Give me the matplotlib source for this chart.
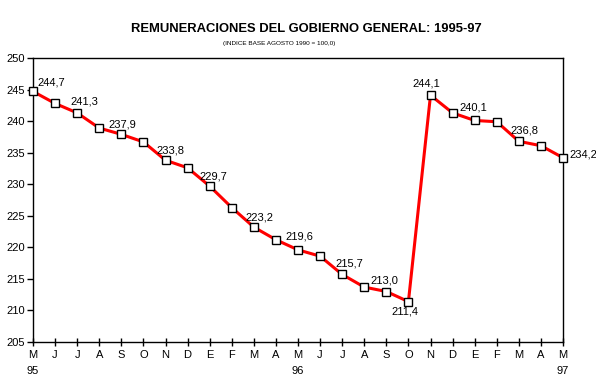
import matplotlib
matplotlib.use("Agg")
import matplotlib.pyplot as plt

months = ["M", "J", "J", "A", "S", "O", "N", "D", "E", "F", "M", "A",
          "M", "J", "J", "A", "S", "O", "N", "D", "E", "F", "M", "A", "M"]
years = {0: "95", 12: "96", 24: "97"}
values = [244.7, 242.8, 241.3, 238.9, 237.9, 236.7, 233.8, 232.6, 229.7,
          226.3, 223.2, 221.2, 219.6, 218.6, 215.7, 213.7, 213.0, 211.4,
          244.1, 241.3, 240.1, 239.9, 236.8, 236.1, 234.2]
# index -> (dx px, dy px, ha)
labels = {0: (4, 9, "left"), 2: (7, 11, "center"), 4: (1, 10, "center"),
          6: (5, 10, "center"), 8: (4, 10, "center"), 10: (6, 10, "center"),
          12: (1, 13, "center"), 14: (7, 11, "center"), 16: (-2, 11, "center"),
          17: (-3, -10, "center"), 18: (-4, 12, "center"), 20: (-1, 13, "center"),
          22: (6, 11, "center"), 24: (6, 3, "left")}

plt.rcParams['font.family'] = ['Liberation Sans', 'DejaVu Sans']

fig = plt.figure(figsize=(5.96, 3.92), dpi=100)
ax = fig.add_axes([33/596, 1-342/392, 530/596, 284/392])

x = list(range(len(values)))
ax.plot(x, values, color="#ff0000", lw=2.2, marker="s", ms=5.3,
        mfc="white", mec="black", mew=1.0, zorder=3, clip_on=False)

for i, (dx, dy, ha) in labels.items():
    ax.annotate(f"{values[i]:.1f}".replace(".", ","), (x[i], values[i]),
                xytext=(dx, dy), textcoords="offset pixels", ha=ha,
                va="center", fontsize=8)

ax.set_xlim(0, 24)
ax.set_ylim(205, 250)
ax.set_yticks(range(205, 251, 5))
ax.set_xticks(x)
ax.set_xticklabels([m + ("\n" + years[i] if i in years else "\n") for i, m in enumerate(months)],
                   linespacing=1.75)
ax.tick_params(axis="x", direction="inout", length=6, width=1, labelsize=8, pad=3)
ax.tick_params(axis="y", direction="out", length=4, width=1, labelsize=8, pad=2)
for s in ax.spines.values():
    s.set_linewidth(1)

fig.text(306/596, 1-29/392, "REMUNERACIONES DEL GOBIERNO GENERAL: 1995-97",
         ha="center", va="center", fontsize=9.4, fontweight="bold")
fig.text(279/596, 1-44/392, "(INDICE BASE AGOSTO 1990 = 100,0)",
         ha="center", va="center", fontsize=4.6)

fig.savefig("out.png", dpi=100)
